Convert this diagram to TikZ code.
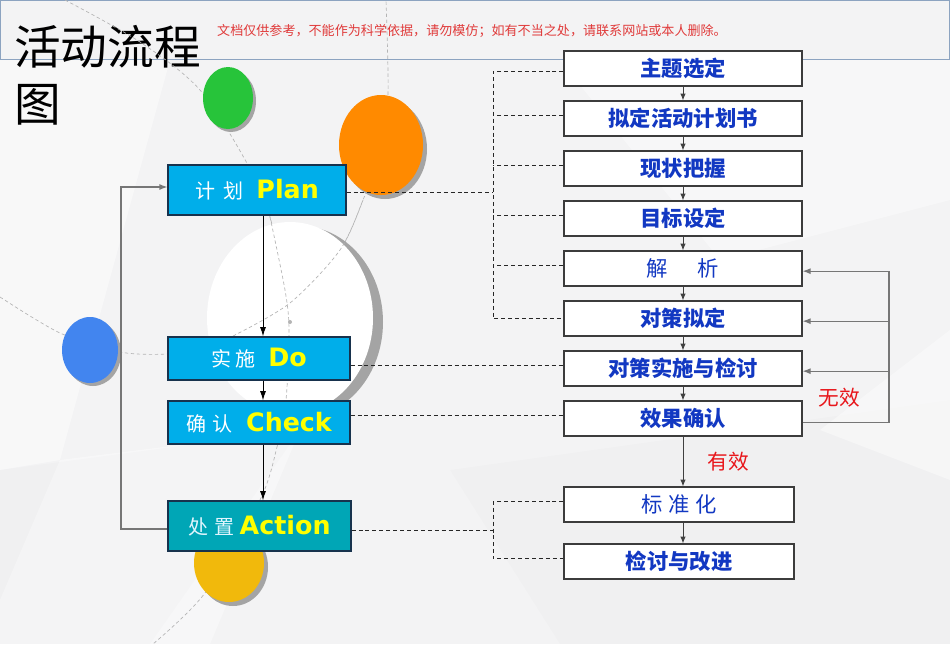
\documentclass[tikz,border=0pt]{standalone}
\usepackage{fontspec}
\setmainfont{DejaVu Sans}
\newfontfamily\cjk{Noto Sans CJK SC}
\usetikzlibrary{arrows.meta,calc}
\definecolor{bgc}{HTML}{F3F3F4}
\definecolor{hdr}{HTML}{8CA3C0}
\definecolor{cyanbox}{HTML}{00AEEA}
\definecolor{actbox}{HTML}{00A6B6}
\definecolor{navy}{HTML}{17324D}
\definecolor{rtext}{HTML}{1238C2}
\definecolor{redtxt}{HTML}{E8161B}
\definecolor{wmred}{HTML}{E03A3A}
\definecolor{ylw}{HTML}{FFFF00}
\definecolor{rborder}{HTML}{3C3C3C}
\definecolor{greenc}{HTML}{27C43A}
\definecolor{orangec}{HTML}{FF8A00}
\definecolor{bluec}{HTML}{4285EF}
\definecolor{yellowc}{HTML}{F1B90C}
\definecolor{shadowc}{HTML}{A4A4A4}
\definecolor{arcc}{HTML}{B4B4B4}
\definecolor{fbgrey}{HTML}{767676}
\begin{document}
\begin{tikzpicture}[x=0.75pt,y=-0.75pt,
  pdca/.style={draw=navy, line width=0.9pt, inner sep=0pt, text=white},
  rbox/.style={draw=rborder, fill=white, line width=0.9pt, minimum width=178.5pt, minimum height=26.25pt, inner sep=0pt, text=rtext, font=\cjk\bfseries\fontsize{16}{18}\selectfont},
  rboxl/.style={rbox, font=\cjk\fontsize{16}{18}\selectfont},
  dashline/.style={draw=black!85, line width=0.75pt, dash pattern=on 3pt off 2.2pt},
  sarrow/.style={draw=black!75, line width=0.7pt, -{Latex[length=5pt,width=4pt]}},
  barrow/.style={draw=black, line width=0.7pt, -{Latex[length=7pt,width=4.5pt]}},
  fbline/.style={draw=fbgrey, line width=0.9pt},
  fbarrow/.style={fbline, -{Latex[length=6pt,width=4.5pt]}},
  arcline/.style={draw=arcc, line width=0.5pt, dash pattern=on 2.5pt off 2pt},
  redlbl/.style={text=redtxt, font=\cjk\fontsize{15.5}{18}\selectfont, inner sep=0pt},
]
% background
\fill[bgc] (0,0) rectangle (950,644);
\useasboundingbox (0,0) rectangle (950,644);
\fill[white,opacity=0.45] (0,60) -- (170,60) -- (60,460) -- (0,470) -- cycle;
\fill[white,opacity=0.4] (60,460) -- (300,430) -- (210,644) -- (0,644) -- (0,600) -- cycle;
\fill[white,opacity=0.4] (560,60) -- (950,60) -- (950,200) -- (720,260) -- cycle;
\fill[black,opacity=0.012] (450,470) -- (950,400) -- (950,644) -- (560,644) -- cycle;
\fill[black,opacity=0.012] (0,470) -- (300,430) -- (150,644) -- (0,644) -- cycle;
\fill[white,opacity=0.4] (820,430) -- (950,330) -- (950,480) -- cycle;
% header
\draw[hdr, line width=0.8pt] (0,0.5) rectangle (949.5,59.5);
\node[text=wmred, font=\cjk\fontsize{9.8}{12}\selectfont, inner sep=0pt] (wm) at (472,31) {文档仅供参考，不能作为科学依据，请勿模仿；如有不当之处，请联系网站或本人删除。};
% title
\node[anchor=north west, inner sep=0pt, align=left, font=\cjk\fontsize{35}{43}\selectfont] (title) at (14,25) {活动流程\\图};
% decorative dashed arcs
\draw[arcline] plot[smooth] coordinates {(65,0) (140,42) (200,90) (248,165) (270,217) (285,290) (289,330) (286,400) (277,447) (260,500) (205,593) (153,644)};
\draw[arcline] plot[smooth] coordinates {(0,297) (60,333) (120,352) (167,354) (200,348) (233,336) (290,303) (340,250) (363,200) (381,150) (388,95) (386,0)};
% big white circle with shadow
\fill[shadowc] (300,322) ellipse [x radius=62.25pt, y radius=72pt];
\fill[white] (290,318) ellipse [x radius=62.25pt, y radius=72pt];
\fill[arcc] (290,322) circle [radius=1.5pt];
\draw[arcline] plot[smooth] coordinates {(233,336) (290,303) (340,250) (363,200)};
\draw[arcline] plot[smooth] coordinates {(270,217) (285,290) (289,330) (286,400) (277,447)};
% small circles
\fill[shadowc] (231,101) ellipse [x radius=18.75pt, y radius=23.25pt];
\fill[greenc] (228,98) ellipse [x radius=18.75pt, y radius=23.25pt];
\fill[shadowc] (385,149) ellipse [x radius=31.5pt, y radius=37.5pt];
\fill[orangec] (381,145) ellipse [x radius=31.5pt, y radius=37.5pt];
\fill[shadowc] (93,353) ellipse [x radius=21pt, y radius=24.75pt];
\fill[bluec] (90,350) ellipse [x radius=21pt, y radius=24.75pt];
\fill[shadowc] (233,567) ellipse [x radius=26.25pt, y radius=29.25pt];
\fill[yellowc] (229,563) ellipse [x radius=26.25pt, y radius=29.25pt];
% PDCA boxes
\node[pdca, fill=cyanbox, minimum width=133.5pt, minimum height=37.5pt] (P) at (257,190)
  {{\cjk\fontsize{15}{18}\selectfont 计\hspace{6pt}划}\hspace{10pt}{\bfseries\color{ylw}\fontsize{19}{22}\selectfont Plan}};
\node[pdca, fill=cyanbox, minimum width=136.5pt, minimum height=32.25pt] (D) at (259,358.5)
  {{\cjk\fontsize{15}{18}\selectfont 实\hspace{3pt}施}\hspace{10pt}{\bfseries\color{ylw}\fontsize{19}{22}\selectfont Do}};
\node[pdca, fill=cyanbox, minimum width=136.5pt, minimum height=32.25pt] (C) at (259,422.5)
  {{\cjk\fontsize{15}{18}\selectfont 确\hspace{5pt}认}\hspace{10pt}{\bfseries\color{ylw}\fontsize{19}{22}\selectfont Check}};
\node[pdca, fill=actbox, minimum width=137.25pt, minimum height=37.5pt] (A) at (259.5,526)
  {{\cjk\fontsize{15}{18}\selectfont\color{white!88!cyan} 处\hspace{4.5pt}置}\hspace{4pt}{\bfseries\color{ylw}\fontsize{19}{22}\selectfont Action}};
% right boxes
\node[rbox] (s1) at (683,68.5) {主题选定};
\node[rbox] (s2) at (683,118.5) {拟定活动计划书};
\node[rbox] (s3) at (683,168.5) {现状把握};
\node[rbox] (s4) at (683,218.5) {目标设定};
\node[rboxl] (s5) at (683,268.5) {解\hspace{1.4em}析};
\node[rbox] (s6) at (683,318.5) {对策拟定};
\node[rbox] (s7) at (683,368.5) {对策实施与检讨};
\node[rbox] (s8) at (683,418.5) {效果确认};
\node[rboxl, minimum width=172.5pt] (s9) at (679,504.5) {标\hspace{4.5pt}准\hspace{4.5pt}化};
\node[rbox, minimum width=172.5pt] (s10) at (679,561.5) {检讨与改进};
% labels
\node[redlbl] (yx) at (728,462) {有效};
\node[redlbl] (wx) at (839,398) {无效};
% coordinates for buses
\coordinate (bus) at (493,0);
\coordinate (lb) at (121,0);
\coordinate (rb) at (889,0);
\coordinate (ax) at (263,0);
% left arrows
\draw[barrow] (P.south -| ax) -- (D.north -| ax);
\draw[barrow] (D.south -| ax) -- (C.north -| ax);
\draw[barrow] (C.south -| ax) -- (A.north -| ax);
% left feedback
\draw[fbarrow] ([yshift=-2.25pt]A.west) -- ([yshift=-2.25pt]A.west -| lb) -- ([yshift=2.25pt]P.west -| lb) -- ([yshift=2.25pt]P.west);
% right arrows
\draw[sarrow] (s1) -- (s2);
\draw[sarrow] (s2) -- (s3);
\draw[sarrow] (s3) -- (s4);
\draw[sarrow] (s4) -- (s5);
\draw[sarrow] (s5) -- (s6);
\draw[sarrow] (s6) -- (s7);
\draw[sarrow] (s7) -- (s8);
\draw[sarrow] (s8.south) -- (s9.north -| s8.south);
\draw[sarrow] (s9.south -| s8.south) -- (s10.north -| s8.south);
% right feedback
\draw[fbarrow] ([yshift=-3pt]s8.east) -- ([yshift=-3pt]s8.east -| rb) -- ([yshift=-2pt]s5.east -| rb) -- ([yshift=-2pt]s5.east);
\draw[fbarrow] ([yshift=-2pt]s6.east -| rb) -- ([yshift=-2pt]s6.east);
\draw[fbarrow] ([yshift=-2pt]s7.east -| rb) -- ([yshift=-2pt]s7.east);
% dashed connectors
\draw[dashline] ([yshift=-2pt]s1.west) -- ([yshift=-2pt]s1.west -| bus) -- (s6.west -| bus) -- (s6.west);
\draw[dashline] ([yshift=2pt]s2.west) -- ([yshift=2pt]s2.west -| bus);
\draw[dashline] ([yshift=2pt]s3.west) -- ([yshift=2pt]s3.west -| bus);
\draw[dashline] ([yshift=2pt]s4.west) -- ([yshift=2pt]s4.west -| bus);
\draw[dashline] ([yshift=2pt]s5.west) -- ([yshift=2pt]s5.west -| bus);
\draw[dashline] ([yshift=-2pt]P.east) -- ([yshift=-2pt]P.east -| bus);
\draw[dashline] ([yshift=2pt]D.east |- s7.west) -- ([yshift=2pt]s7.west);
\draw[dashline] ([yshift=2pt]C.east |- s8.west) -- ([yshift=2pt]s8.west);
\draw[dashline] ([yshift=-3pt]A.east) -- ([yshift=-3pt]A.east -| bus);
\draw[dashline] ([yshift=2pt]s9.west) -- ([yshift=2pt]s9.west -| bus) -- ([yshift=2pt]s10.west -| bus) -- ([yshift=2pt]s10.west);
\end{tikzpicture}
\end{document}
